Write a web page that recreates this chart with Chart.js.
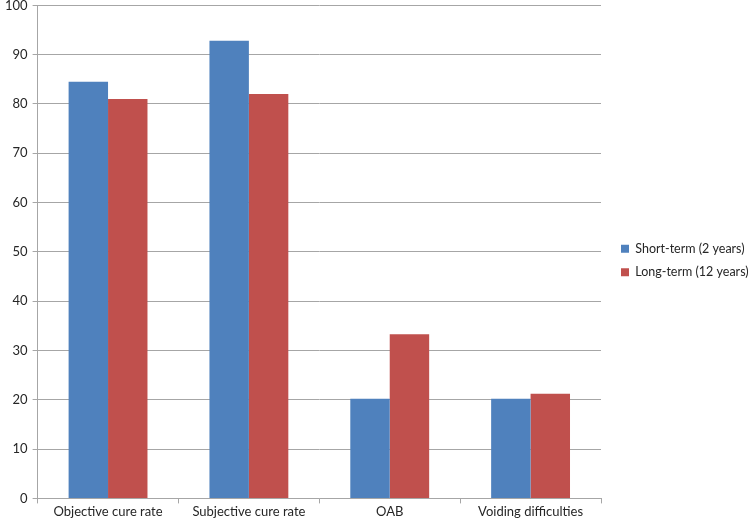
<!DOCTYPE html>
<html>
<head>
<meta charset="utf-8">
<script src="https://cdn.jsdelivr.net/npm/chart.js@4/dist/chart.umd.min.js"></script>
<style>
  html, body { margin: 0; padding: 0; background: #fff; }
  #wrap { width: 750px; height: 524px; position: relative; }
</style>
</head>
<body>
<div id="wrap"><canvas id="chart"></canvas></div>
<script>
const categories = ["Objective cure rate", "Subjective cure rate", "OAB", "Voiding difficulties"];
const shortTerm = [84.5, 92.8, 20.2, 20.2];
const longTerm = [81, 82, 33.3, 21.2];
const seriesNames = ["Short-term (2 years)", "Long-term (12 years)"];

const gridColor = "#a6a6a6";
const textColor = "#262626";
const fontFamily = "Lato, 'Open Sans', sans-serif";

const ctx = document.getElementById("chart");
new Chart(ctx, {
  type: "bar",
  data: {
    labels: categories,
    datasets: [
      {
        label: seriesNames[0],
        data: shortTerm,
        backgroundColor: "#4f81bd",
        categoryPercentage: 0.56,
        barPercentage: 1.0,
      },
      {
        label: seriesNames[1],
        data: longTerm,
        backgroundColor: "#c0504d",
        categoryPercentage: 0.56,
        barPercentage: 1.0,
      },
    ],
  },
  options: {
    responsive: true,
    maintainAspectRatio: false,
    animation: false,
    layout: { padding: { top: 0, right: 0, bottom: 3, left: 0 } },
    plugins: {
      tooltip: { enabled: false },
      legend: {
        position: "right",
        align: "center",
        maxWidth: 140,
        labels: {
          color: textColor,
          font: { family: fontFamily, size: 12.5 },
          boxWidth: 8,
          boxHeight: 8,
          padding: 11,
        },
      },
    },
    scales: {
      x: {
        grid: {
          drawOnChartArea: false,
          drawTicks: true,
          tickLength: 5,
          color: gridColor,
        },
        border: { color: gridColor },
        ticks: {
          color: textColor,
          font: { family: fontFamily, size: 13 },
          padding: 1,
          maxRotation: 0,
        },
      },
      y: {
        min: 0,
        max: 100,
        grid: {
          color: gridColor,
          drawTicks: true,
          tickLength: 5,
        },
        border: { color: gridColor },
        ticks: {
          stepSize: 10,
          color: textColor,
          font: { family: fontFamily, size: 13, lineHeight: 0.05 },
          padding: 5,
        },
      },
      // empty spacer between plot and legend
      spacer: {
        position: "right",
        display: true,
        grid: { display: false },
        border: { display: false },
        ticks: { display: false },
        afterFit: (scale) => { scale.width = 9; },
      },
    },
  },
});
</script>
</body>
</html>
